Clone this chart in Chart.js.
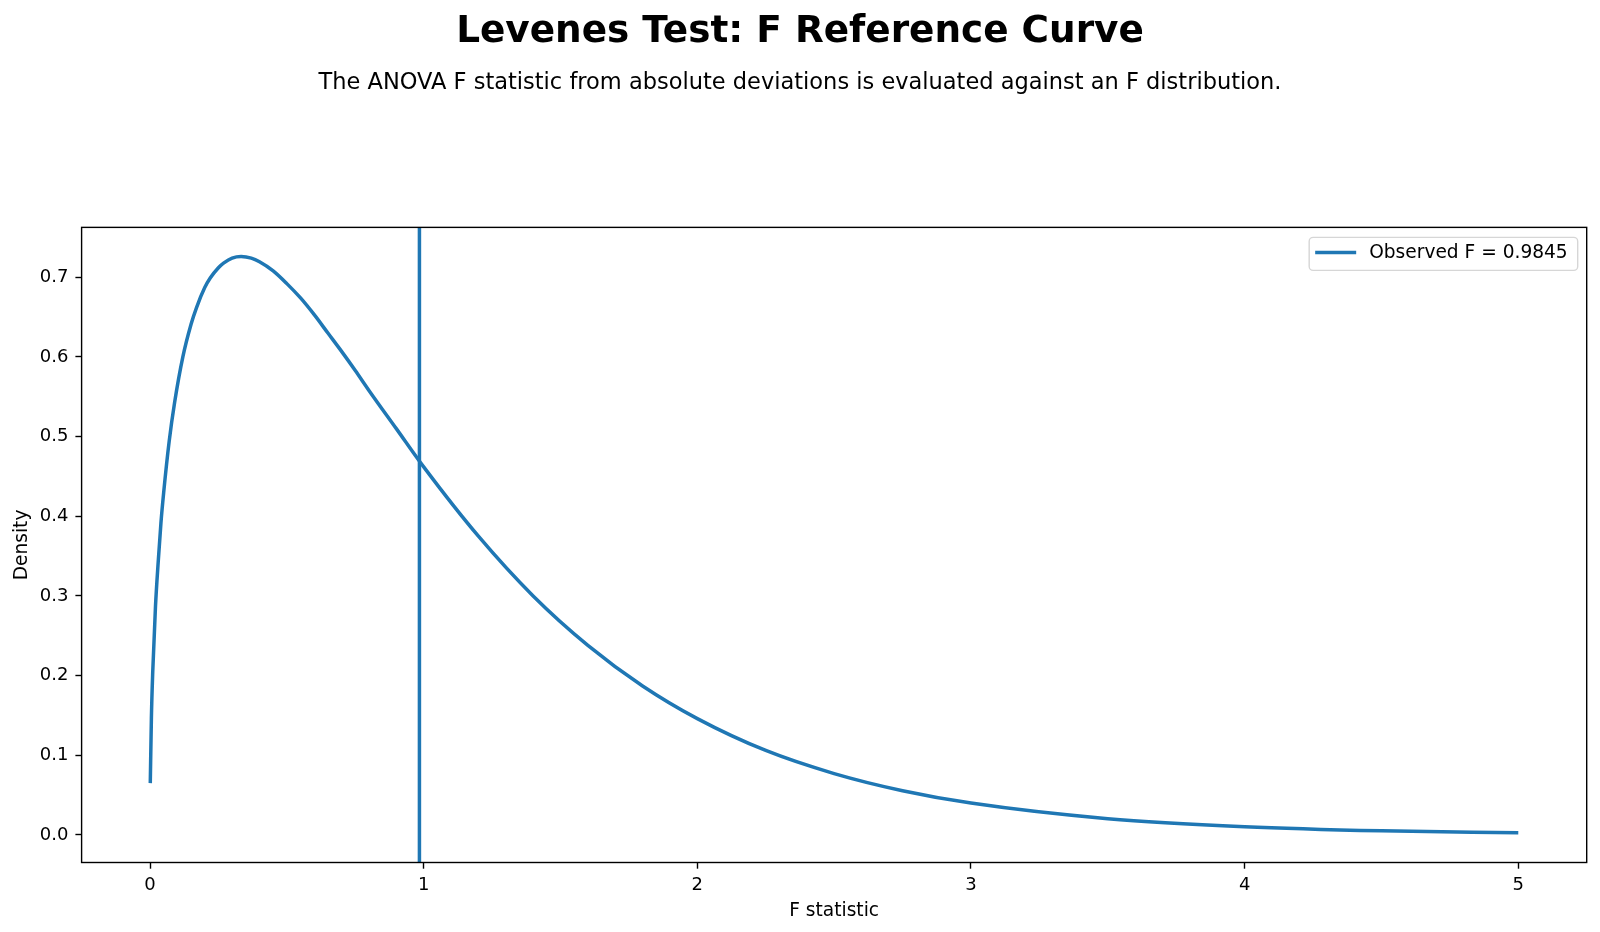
<!DOCTYPE html>
<html>
<head>
<meta charset="utf-8">
<title>Levenes Test: F Reference Curve</title>
<script src="https://cdn.jsdelivr.net/npm/chart.js@4.4.1/dist/chart.umd.min.js"></script>
<style>
  html, body { margin: 0; padding: 0; background: #fff; }
  #wrap { width: 1600px; height: 932px; }
</style>
</head>
<body>
<div id="wrap"><canvas id="fChart"></canvas></div>
<script>
// values
const fValues = [0.001, 0.005, 0.01, 0.02, 0.03, 0.04, 0.05, 0.07, 0.09, 0.12, 0.15, 0.17, 0.2, 0.22, 0.25, 0.27, 0.3, 0.333, 0.37,
  0.4, 0.45, 0.5, 0.55, 0.6, 0.65, 0.7, 0.75, 0.8, 0.9, 1.0, 1.2, 1.4, 1.6, 1.8, 2.0, 2.25, 2.5, 2.75, 3.0, 3.5, 4.0, 4.5, 5.0];
const density = [0.065, 0.146, 0.205, 0.287, 0.343, 0.392, 0.43, 0.494, 0.543, 0.6, 0.641, 0.662, 0.687, 0.699, 0.712, 0.718, 0.724, 0.726, 0.724,
  0.7195, 0.708, 0.692, 0.674, 0.653, 0.63, 0.607, 0.583, 0.558, 0.51, 0.462, 0.375, 0.3, 0.238, 0.187, 0.146, 0.106, 0.077, 0.0555, 0.04, 0.0204, 0.0103, 0.0051, 0.0026];
const observedF = 0.9845;
const xTicks = [0, 1, 2, 3, 4, 5];
const xTickLabels = ["0", "1", "2", "3", "4", "5"];
const yTicks = [0, 0.1, 0.2, 0.3, 0.4, 0.5, 0.6, 0.7];
const yTickLabels = ["0.0", "0.1", "0.2", "0.3", "0.4", "0.5", "0.6", "0.7"];
const xRange = [-0.25, 5.25];
const yRange = [-0.0346, 0.7626];

const blue = "#1f77b4";
const fontFam = "'DejaVu Sans', sans-serif";

// box round the plot, like matplotlib spines
const framePlugin = {
  id: "frame",
  afterDatasetsDraw(chart) {
    const { ctx, chartArea: a } = chart;
    ctx.save();
    ctx.strokeStyle = "#000";
    ctx.lineWidth = 1.4;
    ctx.strokeRect(a.left, a.top, a.right - a.left, a.bottom - a.top);
    ctx.restore();
  },
};

// legend box in the upper right corner
const boxLegend = {
  id: "boxLegend",
  afterDraw(chart) {
    const { ctx, chartArea: a } = chart;
    const ds = chart.data.datasets[1];
    ctx.save();
    ctx.font = "18.6px " + fontFam;
    const tw = ctx.measureText(ds.label).width;
    const w = tw + 70;
    const h = 33;
    const x = a.right - 9 - w;
    const y = a.top + 10;
    ctx.beginPath();
    ctx.roundRect(x, y, w, h, 4);
    ctx.fillStyle = "rgba(255,255,255,0.8)";
    ctx.fill();
    ctx.strokeStyle = "#d6d6d6";
    ctx.lineWidth = 1.4;
    ctx.stroke();
    ctx.beginPath();
    ctx.moveTo(x + 6, y + 15);
    ctx.lineTo(x + 47, y + 15);
    ctx.strokeStyle = ds.borderColor;
    ctx.lineWidth = ds.borderWidth;
    ctx.stroke();
    ctx.fillStyle = "#000";
    ctx.textBaseline = "middle";
    ctx.fillText(ds.label, x + 60, y + 16);
    ctx.restore();
  },
};

const ctx = document.getElementById("fChart").getContext("2d");

new Chart(ctx, {
  type: "line",
  data: {
    datasets: [
      {
        label: "F density",
        data: fValues.map((x, i) => ({ x: x, y: density[i] })),
        borderColor: blue,
        borderWidth: 3.5,
        pointRadius: 0,
        cubicInterpolationMode: "monotone",
        fill: false,
      },
      {
        label: "Observed F = " + observedF,
        data: [{ x: observedF, y: yRange[0] }, { x: observedF, y: yRange[1] }],
        borderColor: blue,
        borderWidth: 3.5,
        pointRadius: 0,
        fill: false,
      },
    ],
  },
  options: {
    responsive: true,
    maintainAspectRatio: false,
    animation: false,
    layout: { padding: 0 },
    plugins: {
      legend: { display: false },
      tooltip: { enabled: false },
      title: {
        display: true,
        text: "Levenes Test: F Reference Curve",
        color: "#000",
        font: { family: fontFam, size: 37.4, weight: "bold" },
        padding: { top: 9.8, bottom: 6 },
      },
      subtitle: {
        display: true,
        text: "The ANOVA F statistic from absolute deviations is evaluated against an F distribution.",
        color: "#000",
        font: { family: fontFam, size: 22.5 },
        padding: { top: 9, bottom: 130.7 },
      },
    },
    scales: {
      x: {
        type: "linear",
        min: xRange[0],
        max: xRange[1],
        afterFit(scale) { scale.height = 69.5; },
        afterBuildTicks(scale) { scale.ticks = xTicks.map((v) => ({ value: v })); },
        ticks: {
          color: "#000",
          font: { family: fontFam, size: 18 },
          padding: 6,
          maxRotation: 0,
          callback: (v) => xTickLabels[xTicks.indexOf(v)],
        },
        grid: { drawOnChartArea: false, drawTicks: true, tickLength: 6.2, tickColor: "#000", tickWidth: 1.4 },
        border: { display: false },
        title: {
          display: true,
          text: "F statistic",
          color: "#000",
          font: { family: fontFam, size: 18.6 },
          padding: { top: 0, bottom: 10 },
        },
      },
      y: {
        type: "linear",
        min: yRange[0],
        max: yRange[1],
        afterFit(scale) { scale.width = 81.6; },
        afterBuildTicks(scale) { scale.ticks = yTicks.map((v) => ({ value: v })); },
        ticks: {
          color: "#000",
          font: { family: fontFam, size: 18 },
          padding: 7,
          callback: (v) => yTickLabels[yTicks.indexOf(v)],
        },
        grid: { drawOnChartArea: false, drawTicks: true, tickLength: 6.2, tickColor: "#000", tickWidth: 1.4 },
        border: { display: false },
        title: {
          display: true,
          text: "Density",
          color: "#000",
          font: { family: fontFam, size: 18.6 },
          padding: { top: 11, bottom: 0 },
        },
      },
      // empty right axis: only keeps the white margin right of the plot
      yRight: {
        type: "linear",
        position: "right",
        display: true,
        afterFit(scale) { scale.width = 13.3; },
        ticks: { display: false },
        grid: { display: false },
        border: { display: false },
      },
    },
  },
  plugins: [framePlugin, boxLegend],
});
</script>
</body>
</html>
